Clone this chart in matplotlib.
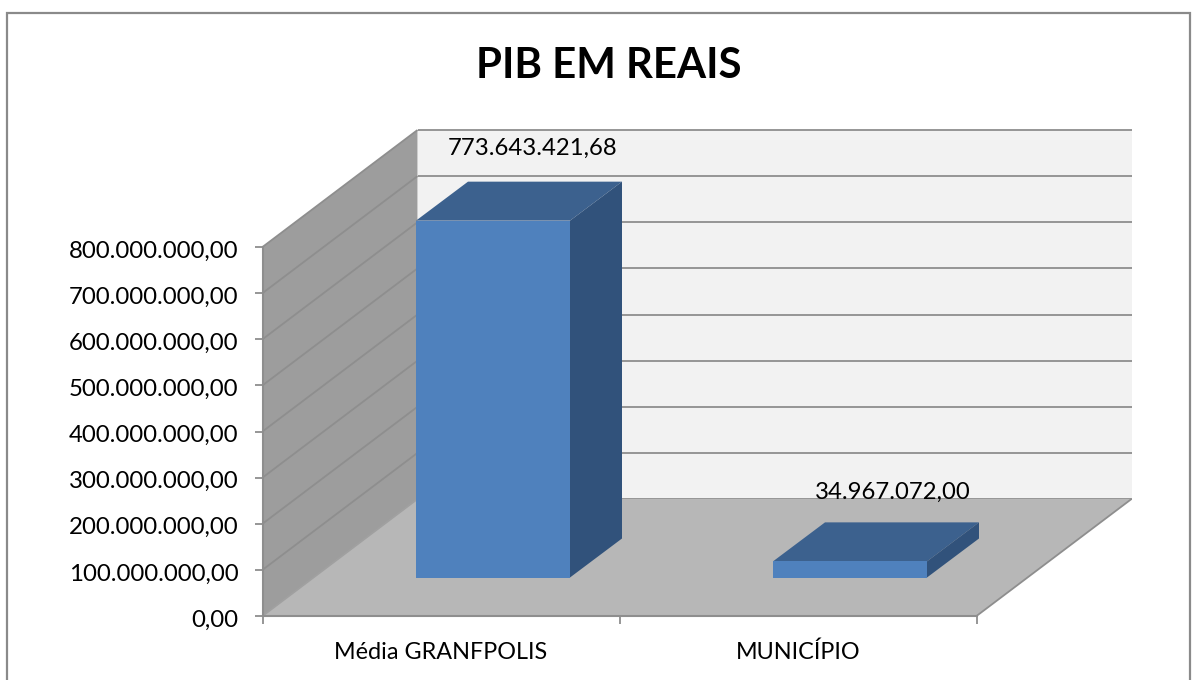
import matplotlib
matplotlib.use("Agg")
import matplotlib.pyplot as plt
from matplotlib.patches import Polygon, Rectangle
from matplotlib.transforms import Affine2D, IdentityTransform

categories = ["Média GRANFPOLIS", "MUNICÍPIO"]
values = [773643421.68, 34967072.00]
value_labels = ["773.643.421,68", "34.967.072,00"]
y_ticks = [0, 100e6, 200e6, 300e6, 400e6, 500e6, 600e6, 700e6, 800e6]
y_tick_labels = ["0,00", "100.000.000,00", "200.000.000,00", "300.000.000,00",
                 "400.000.000,00", "500.000.000,00", "600.000.000,00",
                 "700.000.000,00", "800.000.000,00"]
title = "PIB EM REAIS"

W, H = 1197, 680
plt.rcParams["font.family"] = ["Lato", "DejaVu Sans"]
fig = plt.figure(figsize=(W / 100, H / 100), dpi=100, facecolor="white")

L, R, B, T = 262.5, 976.5, 616, 247
ax = fig.add_axes([L / W, 1 - B / H, (R - L) / W, (B - T) / H])
ax.set_xlim(0, 2)
ax.set_ylim(0, 800e6)
ax.patch.set_alpha(0)

DX, DY = 155, 117      # wall depth in pixels
BX, BY = 52, 39        # bar depth and inset in pixels
BAR_W = 154 / ((R - L) / 2)

WALL = "#9d9d9d"; BACK = "#f2f2f2"; FLOOR = "#b7b7b7"; GRID = "#8e8e8e"
FRONT = "#4f81bd"; TOP = "#3c618e"; SIDE = "#31527b"
LABEL_SHIFT = [(14, 26), (17, 23)]


def proj(x, v, ox=0, oy=0):
    px, py = ax.transData.transform((x, v))
    return (px + ox, py + oy)


def poly(pts, color, z):
    ax.add_patch(Polygon(pts, closed=True, facecolor=color, edgecolor="none", linewidth=0,
                         transform=IdentityTransform(), clip_on=False, zorder=z))


def seg(p, q, z=1.5, lw=1.3, color=GRID):
    ax.add_line(plt.Line2D([p[0], q[0]], [p[1], q[1]], color=color, linewidth=lw,
                           transform=IdentityTransform(), clip_on=False, zorder=z,
                           solid_capstyle="butt"))


# chart frame
fig.add_artist(Rectangle((6.5 / W, -0.1), (1190 - 6.5) / W, (H - 12.5) / H + 0.1,
                         transform=fig.transFigure, facecolor="none",
                         edgecolor="#8a8a8a", linewidth=1.6))

top = y_ticks[-1]
# back wall, side wall, floor
poly([proj(0, 0, DX, DY), proj(2, 0, DX, DY), proj(2, top, DX, DY), proj(0, top, DX, DY)], BACK, 1)
poly([proj(0, 0), proj(0, 0, DX, DY), proj(0, top, DX, DY), proj(0, top)], WALL, 1.2)
poly([proj(0, 0), proj(2, 0), proj(2, 0, DX, DY), proj(0, 0, DX, DY)], FLOOR, 1.3)

for t in y_ticks:
    seg(proj(0, t, DX, DY), proj(2, t, DX, DY), z=1.25)
    if t > 0:
        seg(proj(0, t), proj(0, t, DX, DY), z=1.25)
seg(proj(0, 0), proj(0, 0, DX, DY), z=1.4, color="#a0a0a0")
seg(proj(2, 0), proj(2, 0, DX, DY), z=1.4)

# bars
positions = [0.5, 1.5]
bar_tf = ax.transData + Affine2D().translate(BX, BY - 0.5)
for x, v, lab, (sx, sy) in zip(positions, values, value_labels, LABEL_SHIFT):
    l, r = x - BAR_W / 2, x + BAR_W / 2
    poly([proj(l, v, BX, BY - 0.5), proj(r, v, BX, BY - 0.5), proj(r, v, 2 * BX, 2 * BY - 0.5), proj(l, v, 2 * BX, 2 * BY - 0.5)], TOP, 3)
    poly([proj(r, 0, BX, BY - 0.5), proj(r, 0, 2 * BX, 2 * BY - 0.5), proj(r, v, 2 * BX, 2 * BY - 0.5), proj(r, v, BX, BY - 0.5)], SIDE, 3)
    ax.bar(x, v, width=BAR_W, color=FRONT, zorder=4, clip_on=False, transform=bar_tf)
    px, py = proj(x, v, 1.5 * BX, 2 * BY)
    ax.text(px + sx, py + sy, lab, transform=IdentityTransform(),
            ha="center", va="baseline", fontsize=17.2, color="black", zorder=6, clip_on=False)

ax.set_yticks(y_ticks)
ax.set_yticklabels(y_tick_labels, fontsize=17.3, color="black")
ax.set_xticks([0, 1, 2])
ax.set_xticklabels([])
ax.tick_params(axis="both", color=GRID, width=1.3, length=6)
ax.tick_params(axis="y", pad=11.5)
tick_tf = Affine2D().translate(0, -2)
for lbl in ax.get_yticklabels():
    lbl.set_transform(lbl.get_transform() + tick_tf)
for s in ["top", "right"]:
    ax.spines[s].set_visible(False)
for s in ["left", "bottom"]:
    ax.spines[s].set_color(GRID)
    ax.spines[s].set_linewidth(1.5)
    ax.spines[s].set_zorder(5)

for x, c in zip(positions, categories):
    ax.annotate(c, xy=(x, 0), xytext=(0, -31.2), xycoords="data", textcoords="offset points",
                ha="center", va="baseline", fontsize=16.8, color="black", annotation_clip=False)

fig.text(608.5 / W, 1 - 78 / H, title, ha="center", va="baseline", fontsize=30.2,
         fontweight="bold", color="black")

fig.savefig("out.png", dpi=100)
